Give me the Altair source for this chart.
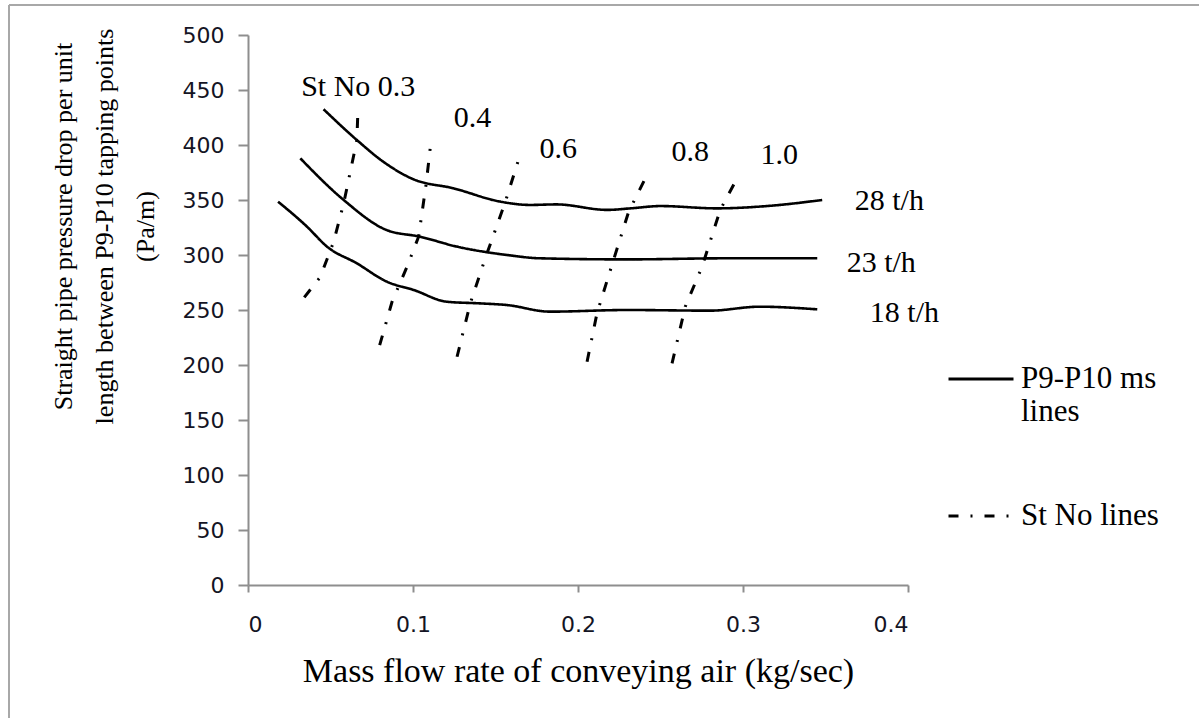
import altair as alt
import pandas as pd

# ---- data ----
ms_28_x = [0.0458, 0.066, 0.082, 0.100, 0.1246, 0.153, 0.171, 0.187, 0.2176, 0.2317, 0.25, 0.284, 0.3145, 0.348]
ms_28_y = [432.5, 404.5, 384.8, 369, 360.6, 348.5, 345.5, 346, 341, 342.4, 344.5, 342.4, 344.5, 350]
ms_23_x = [0.0317, 0.058, 0.084, 0.1044, 0.1267, 0.157, 0.177, 0.2297, 0.29, 0.345]
ms_23_y = [387.9, 350, 322.7, 316.6, 307.6, 300, 297, 296, 297, 297]
ms_18_x = [0.0182, 0.0358, 0.0479, 0.066, 0.0842, 0.1004, 0.1206, 0.1408, 0.157, 0.183, 0.23, 0.28, 0.31, 0.345]
ms_18_y = [348.5, 325.7, 307.6, 292.4, 275.7, 268.2, 257.5, 256, 254.5, 248.5, 250, 249.4, 253, 250.6]

st_03_x = [0.0341, 0.0438, 0.0519, 0.058, 0.066, 0.0667]
st_03_y = [261.5, 280, 312, 347, 404.5, 435.5]
st_04_x = [0.0798, 0.0873, 0.0964, 0.1034, 0.108, 0.1105]
st_04_y = [218, 257.5, 289.4, 316.6, 365, 398]
st_06_x = [0.1267, 0.1347, 0.1438, 0.156, 0.1636]
st_06_y = [207.5, 256, 297, 348.5, 384.8]
st_08_x = [0.2055, 0.2115, 0.2206, 0.2307, 0.2418]
st_08_y = [203, 247, 291, 339.4, 372.7]
st_10_x = [0.257, 0.265, 0.2752, 0.2862, 0.2953]
st_10_y = [201.5, 253, 289.4, 341, 366.6]

label_text = ["St No 0.3", "0.4", "0.6", "0.8", "1.0", "28 t/h", "23 t/h", "18 t/h"]
label_x = [0.0668, 0.136, 0.188, 0.268, 0.322, 0.3887, 0.3838, 0.3978]
label_y = [452.7, 424.5, 396, 393.6, 391, 349, 292.7, 247]

x_ticks = [0, 0.1, 0.2, 0.3, 0.4]
y_ticks = [0, 50, 100, 150, 200, 250, 300, 350, 400, 450, 500]

KIND_MS = "P9-P10 ms lines"
KIND_ST = "St No lines"

# ---- tables ----
def table(name, kind, xs, ys):
    return pd.DataFrame({"series": name, "kind": kind, "x": xs, "y": ys, "o": range(len(xs))})

ms = pd.concat([
    table("28 t/h", KIND_MS, ms_28_x, ms_28_y),
    table("23 t/h", KIND_MS, ms_23_x, ms_23_y),
    table("18 t/h", KIND_MS, ms_18_x, ms_18_y),
])
st = pd.concat([
    table("0.3", KIND_ST, st_03_x, st_03_y),
    table("0.4", KIND_ST, st_04_x, st_04_y),
    table("0.6", KIND_ST, st_06_x, st_06_y),
    table("0.8", KIND_ST, st_08_x, st_08_y),
    table("1.0", KIND_ST, st_10_x, st_10_y),
])
labels = pd.DataFrame({"t": label_text, "x": label_x, "y": label_y})

xscale = alt.Scale(domain=[0, 0.4], nice=False, zero=False)
yscale = alt.Scale(domain=[0, 500], nice=False)

dash_scale = alt.Scale(domain=[KIND_MS, KIND_ST], range=[[1, 0], [10, 12, 2, 12]])

xaxis = alt.Axis(
    values=x_ticks, format=".1~f", grid=False,
    title="Mass flow rate of conveying air (kg/sec)",
    titleFont="Liberation Serif", titleFontSize=34, titleFontWeight="normal",
    titleColor="#000", titleBaseline="alphabetic", titleY=96,
    labelFont="DejaVu Sans", labelFontSize=22, labelColor="#141424",
    labelBaseline="top", labelPadding=22, tickSize=7,
)
yaxis = alt.Axis(
    values=y_ticks, grid=False,
    title=["Straight pipe pressure drop per unit",
           "length between  P9-P10 tapping points",
           "(Pa/m)"],
    titleFont="Liberation Serif", titleFontSize=26, titleFontWeight="normal",
    titleColor="#000", titleAngle=270, titleAlign="center", titleBaseline="middle",
    titleLineHeight=41, titleX=-185, titleY=191,
    labelFont="DejaVu Sans", labelFontSize=22, labelColor="#141424",
    labelPadding=14, tickSize=10,
)

ms_layer = alt.Chart(ms).mark_line(interpolate="monotone", strokeWidth=2.6, color="black").encode(
    x=alt.X("x:Q", scale=xscale, axis=xaxis),
    y=alt.Y("y:Q", scale=yscale, axis=yaxis),
    detail="series:N",
    order="o:Q",
    strokeDash=alt.StrokeDash("kind:N", scale=dash_scale, legend=alt.Legend(
        title=None, orient="none", legendX=699, legendY=310, padding=0,
        symbolType="stroke", symbolSize=4225, symbolStrokeWidth=2.8,
        symbolStrokeColor="black",
        labelFont="Liberation Serif", labelFontSize=31, labelColor="#000",
        labelLimit=400, labelOffset=6,
        labelExpr="datum.label == 'P9-P10 ms lines' ? ['P9-P10 ms', 'lines'] : datum.label",
        rowPadding=55,
    )),
)

st_layer = alt.Chart(st).mark_line(strokeWidth=3, color="black").encode(
    x=alt.X("x:Q", scale=xscale),
    y=alt.Y("y:Q", scale=yscale),
    detail="series:N",
    order="o:Q",
    strokeDash=alt.StrokeDash("kind:N", scale=dash_scale),
)

text_layer = alt.Chart(labels).mark_text(
    font="Liberation Serif", fontSize=30, color="#000", align="center", baseline="middle"
).encode(
    x=alt.X("x:Q", scale=xscale),
    y=alt.Y("y:Q", scale=yscale),
    text="t:N",
)

frame = pd.DataFrame({"k": ["top", "left"]})
frame_top = alt.Chart(frame).transform_filter("datum.k == 'top'").mark_rule(
    color="#a8a8a8", strokeWidth=2).encode(x=alt.value(-239), x2=alt.value(951), y=alt.value(-30))
frame_left = alt.Chart(frame).transform_filter("datum.k == 'left'").mark_rule(
    color="#a8a8a8", strokeWidth=2).encode(x=alt.value(-239), y=alt.value(-30), y2=alt.value(683))

chart = alt.layer(frame_top, frame_left, ms_layer, st_layer, text_layer).properties(
    width=660, height=550,
    autosize=alt.AutoSizeParams(type="none"),
    padding={"left": 248, "top": 35, "right": 291, "bottom": 133},
    background="white",
).configure_view(stroke=None).configure_axis(
    domainColor="#8e8e8e", domainWidth=2, tickColor="#8e8e8e", tickWidth=2,
)

chart.save("out.html", embed_options={"renderer": "svg", "actions": False})
